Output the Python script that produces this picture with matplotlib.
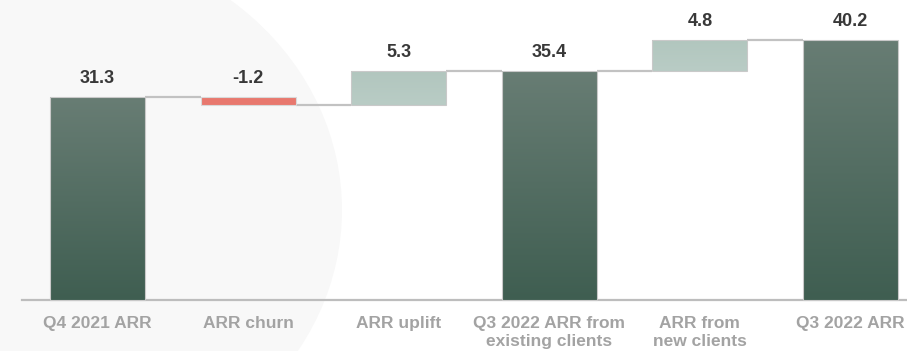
import matplotlib.pyplot as plt
import numpy as np
from matplotlib.colors import LinearSegmentedColormap
from matplotlib.patches import Ellipse, Rectangle

# --- Data ---
categories = ['Q4 2021 ARR', 'ARR churn', 'ARR uplift',
              'Q3 2022 ARR from\nexisting clients', 'ARR from\nnew clients', 'Q3 2022 ARR']
values = [31.3, -1.2, 5.3, 35.4, 4.8, 40.2]
kinds = ['total', 'neg', 'pos', 'total', 'pos', 'total']

# --- Styling ---
plt.rcParams['font.family'] = ['Liberation Sans', 'DejaVu Sans']
dark_cmap = LinearSegmentedColormap.from_list('dark', ['#3f5e51', '#687d74'])
light_cmap = LinearSegmentedColormap.from_list('light', ['#b9ccc5', '#b1c6be'])
neg_color = '#e8786e'
line_color = '#c2c2c2'
value_color = '#383838'
label_color = '#a3a3a3'
width = 0.63

fig = plt.figure(figsize=(9.07, 3.51), dpi=100)
fig.patch.set_facecolor('white')

# soft grey backdrop shape on the left
fig.patches.append(Ellipse((42, 141), 600, 540, transform=None,
                           facecolor='#f8f8f8', edgecolor='none', zorder=-5))

ax = fig.add_axes([0, 0, 1, 1])
ax.set_facecolor('none')
ax.set_zorder(1)
ax.set_xlim(-0.647, 5.375)
ax.set_ylim(-7.87, 46.3)
ax.axis('off')

# --- Compute waterfall extents ---
bottoms, tops = [], []
running = 0.0
for v, k in zip(values, kinds):
    if k == 'total':
        b, t = 0.0, v
        running = v
    else:
        b, t = sorted([running, running + v])
        running += v
    bottoms.append(b)
    tops.append(t)

x = np.arange(len(categories))
grad = np.linspace(0, 1, 256).reshape(-1, 1)

# --- Bars ---
for xi, b, t, k in zip(x, bottoms, tops, kinds):
    x0, x1 = xi - width / 2, xi + width / 2
    if k == 'neg':
        ax.add_patch(Rectangle((x0, b), width, t - b, facecolor=neg_color,
                               edgecolor='#d9d9d9', linewidth=0.8, zorder=3))
    else:
        cmap = dark_cmap if k == 'total' else light_cmap
        im = ax.imshow(grad, cmap=cmap, extent=(x0, x1, b, t), origin='lower',
                       aspect='auto', zorder=3)
        rect = Rectangle((x0, b), width, t - b, facecolor='none',
                         edgecolor='#c9c9c9', linewidth=0.8, zorder=4)
        ax.add_patch(rect)
        im.set_clip_path(rect)

# --- Connectors between bars ---
running = 0.0
for i in range(len(values) - 1):
    level = values[i] if kinds[i] == 'total' else running + values[i]
    running = level
    ax.plot([x[i] + width / 2, x[i + 1] - width / 2], [level, level],
            color=line_color, linewidth=1.6, zorder=2, solid_capstyle='butt')

# --- Baseline ---
ax.plot([-0.5, 5.375], [0, 0], color='#bdbdbd', linewidth=1.6, zorder=2)

# --- Value labels ---
for xi, v, k, b, t in zip(x, values, kinds, bottoms, tops):
    label_y = t if k != 'neg' else b - v
    ax.text(xi, label_y + 1.5, f'{v:.1f}', ha='center', va='bottom',
            fontsize=13, fontweight='bold', color=value_color, zorder=5)

# --- Category labels ---
for xi, name in zip(x, categories):
    ax.text(xi, -2.4, name, ha='center', va='top', fontsize=12.5,
            fontweight='bold', color=label_color, linespacing=1.3, zorder=5)

plt.savefig('out.png', dpi=100, facecolor='white')
